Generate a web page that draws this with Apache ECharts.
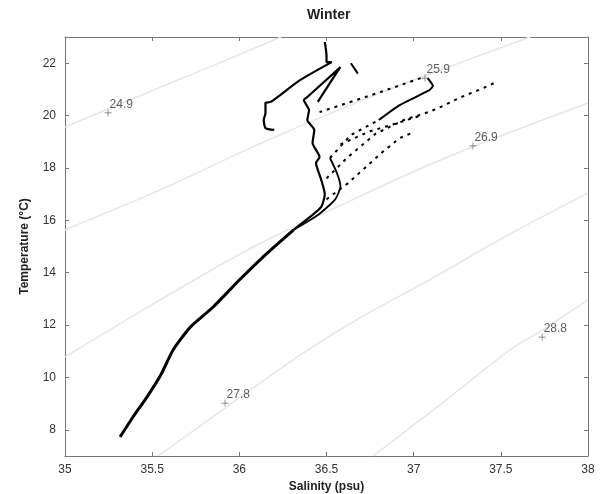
<!DOCTYPE html>
<html>
<head>
<meta charset="utf-8">
<script src="https://cdn.jsdelivr.net/npm/echarts@6/dist/echarts.min.js"></script>
<style>html,body{margin:0;padding:0;background:#fff}#c{width:603px;height:494px}</style>
</head>
<body>
<div id="c"></div>
<script>
// ---- tick labels ----
const salinityTicks = [35, 35.5, 36, 36.5, 37, 37.5, 38];
const temperatureTicks = [8, 10, 12, 14, 16, 18, 20, 22];

// ---- isopycnal (sigma-t) contours ----
const contourLevels = ['24.9', '25.9', '26.9', '27.8', '28.8'];
const contour249 = [[35.0,19.56],[35.247,20.25],[35.66,21.39],[36.09,22.58],[36.24,23.0]];
const contour259 = [[35.0,15.63],[35.545,17.16],[36.09,18.84],[36.635,20.40],[37.077,21.55],[37.668,23.0]];
const contour269 = [[35.0,10.78],[35.545,12.96],[36.09,15.02],[36.635,16.74],[37.02,17.92],[37.35,18.84],[38.0,20.48]];
const contour278 = [[35.534,7.0],[35.918,8.83],[36.35,10.86],[36.69,12.27],[37.09,13.72],[37.553,15.48],[38.0,17.04]];
const contour288 = [[36.767,7.0],[37.15,8.95],[37.553,11.05],[37.737,11.81],[38.0,12.96]];
const contourLabelPoints = [[35.247,20.1],[37.065,21.43],[37.34,18.84],[35.918,9.02],[37.737,11.54]];

// ---- T-S profiles (salinity, temperature) ----
const trunk = [[35.316,7.73],[35.39,8.49],[35.47,9.25],[35.55,10.1],[35.62,11.05],[35.72,11.93],[35.85,12.69],[36.00,13.72],[36.16,14.75],[36.31,15.63]];
const centralColumn = [[36.31,15.63],[36.40,16.1],[36.47,16.51],[36.49,17.0],[36.47,17.54],[36.44,18.19],[36.46,18.42],[36.42,18.95],[36.43,19.45],[36.39,19.83],[36.40,20.21],[36.37,20.59],[36.39,20.71],[36.58,21.85],[36.56,21.66],[36.45,20.52]];
const profileA = [[36.49,22.81],[36.50,22.3],[36.50,22.04],[36.53,22.04],[36.35,21.36],[36.18,20.52],[36.15,20.48],[36.15,20.10],[36.14,19.83],[36.15,19.52],[36.20,19.45]];
const rightColumn = [[36.31,15.63],[36.45,16.2],[36.55,16.8],[36.58,17.3],[36.56,17.8],[36.52,18.38]];
const streak = [[36.64,22.0],[36.68,21.6]];
const profileCSolid = [[36.80,19.83],[36.92,20.40],[37.09,20.97],[37.11,21.13],[37.08,21.43]];
const profileCLow = [[36.52,18.38],[36.64,19.26],[36.80,19.83]];
const profileCHigh = [[37.04,21.43],[36.81,20.90],[36.46,20.13]];
const profileD = [[36.50,17.6],[36.62,18.4],[36.78,19.3],[36.95,19.85],[37.05,20.05],[37.13,20.25],[37.27,20.7],[37.40,21.05],[37.48,21.3]];
const profileE = [[36.50,16.8],[36.62,17.4],[36.72,18.0],[36.82,18.6],[36.92,19.14],[37.0,19.37]];
const profileF = [[36.58,18.9],[36.75,19.4],[36.90,19.7],[37.04,20.0]];

const chart = echarts.init(document.getElementById('c'), null, {renderer:'canvas'});
const FONT = 'Liberation Sans, Arial, sans-serif';

function contourSeries(data){
  return {type:'line', data, smooth:0.3, showSymbol:false, silent:true, z:1,
    lineStyle:{color:'#e6e6e6', width:1.5}};
}
function solid(data, w){
  return {type:'line', data, showSymbol:false, smooth:0.2, z:5,
    lineStyle:{color:'#000', width:w||2}};
}
function dashed(data){
  return {type:'line', data, showSymbol:false, z:5,
    lineStyle:{color:'#000', width:2, type:[3,5]}};
}

const axisLineStyle = {color:'#777', width:1};
const option = {
  animation:false,
  backgroundColor:'#fff',
  textStyle:{fontFamily:FONT},
  title:{text:'Winter', left:302, top:3, textStyle:{fontFamily:FONT, fontSize:14, fontWeight:'bold', color:'#222'}},
  grid:{left:65, right:15, top:37, bottom:38, containLabel:false, outerBoundsMode:'none'},
  xAxis:[
    {type:'value', min:35, max:38, interval:0.5, position:'bottom',
     axisLine:{show:true, onZero:false, lineStyle:axisLineStyle},
     axisTick:{show:true, inside:true, length:4, lineStyle:axisLineStyle},
     axisLabel:{show:true, color:'#333', fontSize:12, margin:8, fontFamily:FONT,
       customValues:salinityTicks},
     splitLine:{show:false},
     name:'Salinity (psu)', nameLocation:'middle', nameGap:24,
     nameTextStyle:{fontFamily:FONT, fontWeight:'bold', fontSize:12, color:'#222'}},
    {type:'value', min:35, max:38, interval:0.5, position:'top',
     axisLine:{show:true, onZero:false, lineStyle:axisLineStyle},
     axisTick:{show:true, inside:true, length:4, lineStyle:axisLineStyle},
     axisLabel:{show:false}, splitLine:{show:false}}
  ],
  yAxis:[
    {type:'value', min:7, max:23, position:'left',
     axisLine:{show:true, onZero:false, lineStyle:axisLineStyle},
     axisTick:{show:true, inside:true, length:4, lineStyle:axisLineStyle, customValues:temperatureTicks},
     axisLabel:{show:true, color:'#333', fontSize:12, margin:9, fontFamily:FONT, customValues:temperatureTicks},
     splitLine:{show:false},
     name:'Temperature (°C)', nameLocation:'middle', nameGap:34, nameRotate:90,
     nameTextStyle:{fontFamily:FONT, fontWeight:'bold', fontSize:12, color:'#222'}},
    {type:'value', min:7, max:23, position:'right',
     axisLine:{show:true, onZero:false, lineStyle:axisLineStyle},
     axisTick:{show:true, inside:true, length:4, lineStyle:axisLineStyle, customValues:temperatureTicks},
     axisLabel:{show:false}, splitLine:{show:false}}
  ],
  series:[
    contourSeries(contour249), contourSeries(contour259), contourSeries(contour269),
    contourSeries(contour278), contourSeries(contour288),
    {type:'scatter', z:6, silent:true,
     data: contourLabelPoints.map((p,i)=>({value:p, name:contourLevels[i]})),
     symbol:'path://M4.5,0H5.5V10H4.5ZM0,4.5H10V5.5H0Z', symbolSize:7,
     itemStyle:{color:'#444'},
     label:{show:true, position:'right', distance:0, offset:[-2,-8], formatter:p=>p.name,
       color:'#333', fontSize:12, fontFamily:FONT}},
    solid(trunk, 3),
    solid(centralColumn, 2.2),
    solid(profileA, 2.2),
    solid(rightColumn, 1.8),
    solid(streak, 2),
    solid(profileCSolid, 2),
    dashed(profileCLow),
    dashed(profileCHigh),
    dashed(profileD),
    dashed(profileE),
    dashed(profileF)
  ]
};
chart.setOption(option);
</script>
</body>
</html>
